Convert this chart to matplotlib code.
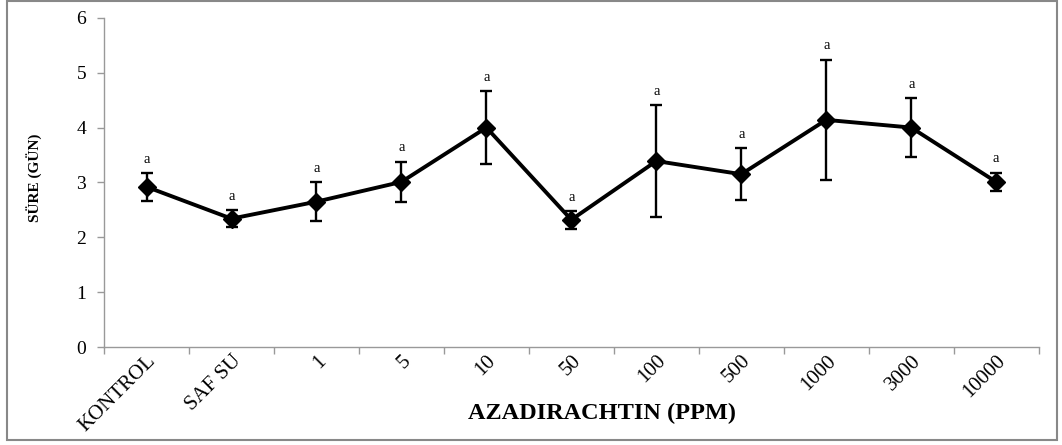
import numpy as np
import matplotlib.pyplot as plt
from matplotlib.patches import Rectangle

# Azadirachtin concentration groups and mean duration (days) with error
groups = ["KONTROL", "SAF SU", "1", "5", "10", "50", "100", "500", "1000", "3000", "10000"]
mean_days = [2.92, 2.34, 2.65, 3.01, 4.00, 2.32, 3.39, 3.15, 4.14, 4.00, 3.01]
err_days = [0.25, 0.16, 0.35, 0.37, 0.67, 0.16, 1.02, 0.47, 1.10, 0.54, 0.17]
letters = ["a"] * len(groups)

plt.rcParams["font.family"] = ["Liberation Serif", "DejaVu Serif"]

fig = plt.figure(figsize=(10.62, 4.45), dpi=100)
ax = fig.add_axes([0.098, 0.220, 0.880, 0.740])

x = np.arange(len(groups))
ax.errorbar(x, mean_days, yerr=err_days, color="black", lw=2.8,
            marker="D", markersize=9, ecolor="black", elinewidth=1.7,
            capsize=4, capthick=1.7)

for xi, m, e, t in zip(x, mean_days, err_days, letters):
    ax.text(xi, m + e + 0.13, t, ha="center", va="bottom", fontsize=10.5)

ax.set_xlim(-0.5, len(groups) - 0.5)
ax.set_ylim(0, 6)
ax.set_yticks(range(0, 7))
ax.tick_params(axis="y", labelsize=14, color="#999999", length=5, width=1, pad=8)

# labels at category centres, tick marks at category boundaries
ax.set_xticks(x)
ax.set_xticklabels(groups, rotation=45, ha="right", rotation_mode="anchor", fontsize=15)
ax.set_xticks(np.arange(-0.5, len(groups)), minor=True)
ax.tick_params(axis="x", which="major", length=0, pad=3)
ax.tick_params(axis="x", which="minor", length=5, color="#999999", width=1)

for s in ["top", "right"]:
    ax.spines[s].set_visible(False)
for s in ["left", "bottom"]:
    ax.spines[s].set_color("#999999")
    ax.spines[s].set_linewidth(1)

fig.text(0.567, 0.070, "AZADIRACHTIN (PPM)", ha="center", va="center",
         fontsize=17.5, fontweight="bold")
fig.text(0.033, 0.60, "SÜRE (GÜN)", ha="center", va="center", rotation=90,
         fontsize=11, fontweight="bold")

# outer frame
fig.patches.append(Rectangle((0.007, 0.011), 0.988, 0.986, transform=fig.transFigure,
                             fill=False, edgecolor="#888888", lw=1.5))

fig.savefig("out.png", dpi=100)
